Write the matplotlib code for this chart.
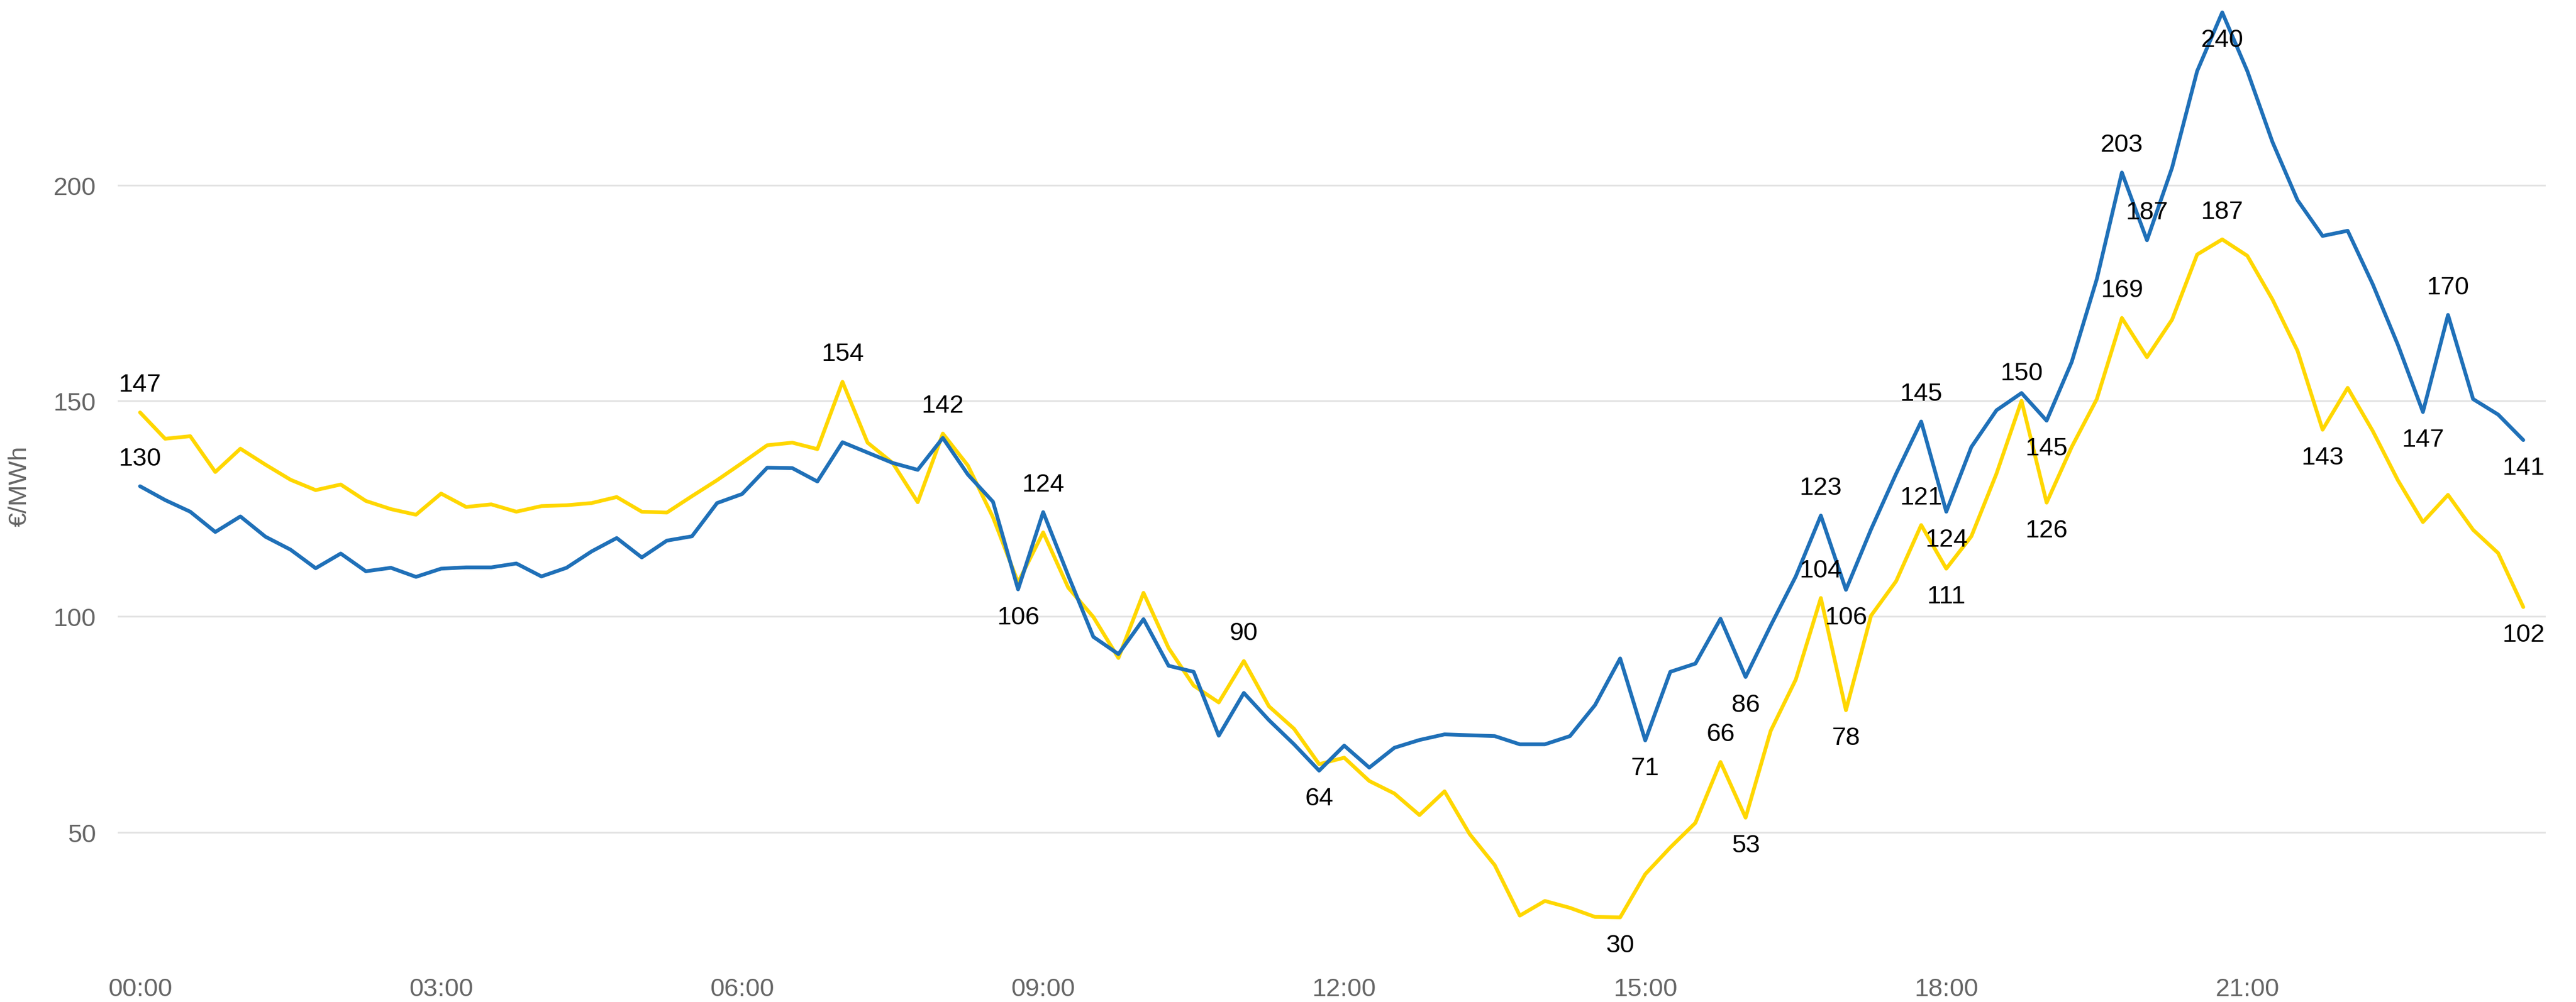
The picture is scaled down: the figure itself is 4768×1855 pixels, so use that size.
import numpy as np
from matplotlib import pyplot as plt

"""
Day-ahead price curve for one day in 15 minute steps, two bidding zones.
Local highs and lows are labelled with the rounded price.
"""

# quarter-hour prices, 96 values per zone (EUR/MWh)
prices_yellow = [
    147.3, 141.2, 141.8, 133.5, 138.9, 135.2, 131.7, 129.3,
    130.6, 126.8, 124.9, 123.6, 128.5, 125.4, 126.0, 124.3,
    125.6, 125.8, 126.3, 127.7, 124.3, 124.1, 127.9, 131.6,
    135.6, 139.7, 140.3, 138.8, 154.4, 140.3, 135.6, 126.5,
    142.4, 135.0, 123.0, 107.9, 119.5, 106.7, 99.9, 90.4,
    105.5, 92.7, 84.0, 80.1, 89.7, 79.2, 74.0, 65.8,
    67.3, 61.9, 59.0, 54.0, 59.5, 49.6, 42.4, 30.7,
    34.1, 32.5, 30.4, 30.3, 40.3, 46.5, 52.2, 66.3,
    53.4, 73.5, 85.4, 104.3, 78.3, 100.2, 108.2, 121.2,
    111.1, 118.6, 133.1, 150.0, 126.4, 139.3, 150.4, 169.2,
    160.1, 168.8, 183.9, 187.4, 183.6, 173.5, 161.6, 143.3,
    153.0, 143.0, 131.6, 121.9, 128.2, 120.1, 114.7, 102.2,
]

prices_blue = [
    130.2, 127.0, 124.3, 119.6, 123.2, 118.5, 115.5, 111.2,
    114.6, 110.5, 111.3, 109.2, 111.1, 111.4, 111.4, 112.3,
    109.3, 111.3, 115.1, 118.2, 113.7, 117.6, 118.6, 126.3,
    128.4, 134.5, 134.4, 131.3, 140.4, 138.0, 135.6, 134.0,
    141.4, 132.9, 126.6, 106.3, 124.2, 109.5, 95.3, 91.3,
    99.4, 88.6, 87.2, 72.4, 82.3, 76.0, 70.4, 64.3,
    70.1, 65.0, 69.6, 71.4, 72.7, 72.5, 72.3, 70.4,
    70.4, 72.3, 79.5, 90.3, 71.3, 87.2, 89.1, 99.5,
    86.0, 97.9, 109.3, 123.4, 106.2, 120.2, 133.1, 145.2,
    124.3, 139.3, 147.8, 151.8, 145.4, 159.0, 178.2, 202.9,
    187.2, 204.0, 226.4, 240.0, 226.4, 210.0, 196.5, 188.2,
    189.4, 177.0, 163.0, 147.4, 169.9, 150.4, 146.8, 140.9,
]

# labelled points: (quarter-hour index, 1 = text above, -1 = text below)
labels_yellow = [
    (0, 1), (28, 1), (32, 1), (44, 1), (59, -1), (63, 1), (64, -1),
    (67, 1), (68, -1), (71, 1), (72, -1), (75, 1), (76, -1), (79, 1),
    (83, 1), (87, -1), (95, -1),
]
labels_blue = [
    (0, 1), (35, -1), (36, 1), (47, -1), (60, -1), (64, -1), (67, 1),
    (68, -1), (71, 1), (72, -1), (76, -1), (79, 1), (80, 1), (83, -1),
    (91, -1), (92, 1), (95, -1),
]

tick_hours = [0, 3, 6, 9, 12, 15, 18, 21]
y_ticks = [50, 100, 150, 200]

YELLOW = "#ffd700"
BLUE = "#1f70b8"
GREY = "#666666"
FONT = "Liberation Sans"


def add_labels(ax, values, labels):
    # write the rounded price above or below the chosen points
    for idx, side in labels:
        ax.annotate(f"{values[idx]:.0f}", xy=(idx, values[idx]),
                    xytext=(0, 37 * side), textcoords="offset points",
                    ha="center", va="center", fontsize=34,
                    color="black", family=FONT, zorder=5)


def main():
    fig = plt.figure(figsize=(47.68, 18.56), dpi=100)
    ax = fig.add_axes([0.0457, 0.0302, 0.9425, 0.9698])

    x = np.arange(len(prices_blue))
    ax.plot(x, prices_yellow, color=YELLOW, linewidth=5, zorder=3,
            solid_joinstyle="round", solid_capstyle="round")
    ax.plot(x, prices_blue, color=BLUE, linewidth=5, zorder=4,
            solid_joinstyle="round", solid_capstyle="round")

    add_labels(ax, prices_yellow, labels_yellow)
    add_labels(ax, prices_blue, labels_blue)

    ax.set_xlim(-0.89, 95.89)
    ax.set_ylim(17.7, 243.0)

    ax.set_xticks([h * 4 for h in tick_hours])
    ax.set_xticklabels([f"{h:02d}:00" for h in tick_hours])
    ax.set_yticks(y_ticks)

    ax.tick_params(axis="both", length=0, labelsize=34, labelcolor=GREY)
    ax.tick_params(axis="x", pad=7)
    ax.tick_params(axis="y", pad=29)
    for lab in ax.get_xticklabels() + ax.get_yticklabels():
        lab.set_family(FONT)

    ax.grid(axis="y", color="#e3e3e3", linewidth=2.4, zorder=0)
    ax.set_axisbelow(True)
    for spine in ax.spines.values():
        spine.set_visible(False)

    ax.set_ylabel("€/MWh", fontsize=34, color=GREY, family=FONT)
    ax.yaxis.set_label_coords(-0.0354, 0.5)

    fig.savefig("out.png", dpi=100, facecolor="white")


if __name__ == "__main__":
    main()
